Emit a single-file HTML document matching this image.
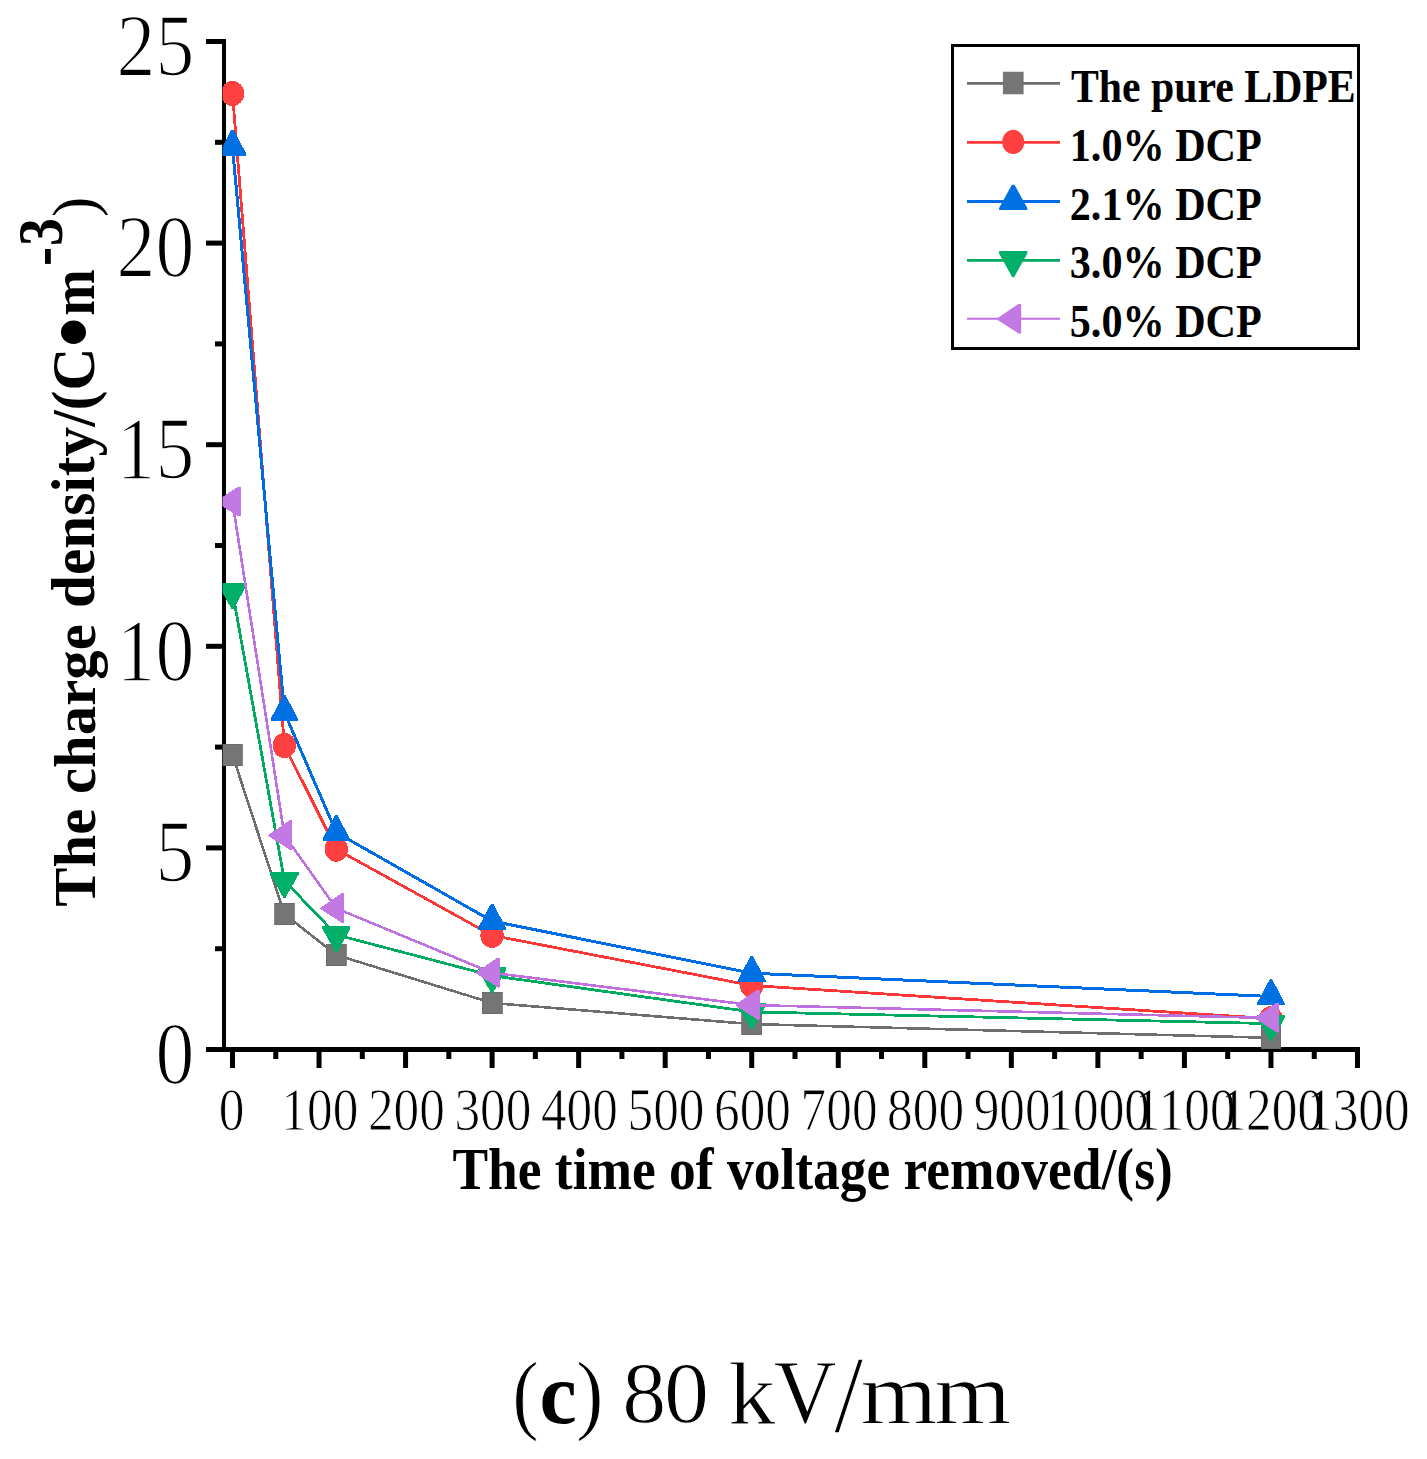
<!DOCTYPE html><html><head><meta charset="utf-8"><style>html,body{margin:0;padding:0;background:#fff;}svg{display:block;}text{font-family:"Liberation Serif",serif;}</style></head><body>
<svg width="1427" height="1459" viewBox="0 0 1427 1459">
<rect width="1427" height="1459" fill="#fff"/>
<defs><clipPath id="pc"><rect x="222.5" y="30" width="1140" height="1022"/></clipPath></defs>
<rect x="222" y="39" width="4" height="1013" fill="#000"/>
<rect x="206" y="1047" width="1154" height="5" fill="#000"/>
<rect x="206" y="845.40" width="18" height="5" fill="#000"/>
<rect x="206" y="643.80" width="18" height="5" fill="#000"/>
<rect x="206" y="442.20" width="18" height="5" fill="#000"/>
<rect x="206" y="240.60" width="18" height="5" fill="#000"/>
<rect x="206" y="39.00" width="18" height="5" fill="#000"/>
<rect x="215" y="946.20" width="9" height="5" fill="#000"/>
<rect x="215" y="744.60" width="9" height="5" fill="#000"/>
<rect x="215" y="543.00" width="9" height="5" fill="#000"/>
<rect x="215" y="341.40" width="9" height="5" fill="#000"/>
<rect x="215" y="139.80" width="9" height="5" fill="#000"/>
<rect x="230.00" y="1049" width="5" height="19" fill="#000"/>
<rect x="316.54" y="1049" width="5" height="19" fill="#000"/>
<rect x="403.08" y="1049" width="5" height="19" fill="#000"/>
<rect x="489.61" y="1049" width="5" height="19" fill="#000"/>
<rect x="576.15" y="1049" width="5" height="19" fill="#000"/>
<rect x="662.69" y="1049" width="5" height="19" fill="#000"/>
<rect x="749.23" y="1049" width="5" height="19" fill="#000"/>
<rect x="835.77" y="1049" width="5" height="19" fill="#000"/>
<rect x="922.30" y="1049" width="5" height="19" fill="#000"/>
<rect x="1008.84" y="1049" width="5" height="19" fill="#000"/>
<rect x="1095.38" y="1049" width="5" height="19" fill="#000"/>
<rect x="1181.92" y="1049" width="5" height="19" fill="#000"/>
<rect x="1268.46" y="1049" width="5" height="19" fill="#000"/>
<rect x="1354.99" y="1049" width="5" height="19" fill="#000"/>
<rect x="273.27" y="1049" width="5" height="10" fill="#000"/>
<rect x="359.81" y="1049" width="5" height="10" fill="#000"/>
<rect x="446.35" y="1049" width="5" height="10" fill="#000"/>
<rect x="532.88" y="1049" width="5" height="10" fill="#000"/>
<rect x="619.42" y="1049" width="5" height="10" fill="#000"/>
<rect x="705.96" y="1049" width="5" height="10" fill="#000"/>
<rect x="792.50" y="1049" width="5" height="10" fill="#000"/>
<rect x="879.04" y="1049" width="5" height="10" fill="#000"/>
<rect x="965.57" y="1049" width="5" height="10" fill="#000"/>
<rect x="1052.11" y="1049" width="5" height="10" fill="#000"/>
<rect x="1138.65" y="1049" width="5" height="10" fill="#000"/>
<rect x="1225.19" y="1049" width="5" height="10" fill="#000"/>
<rect x="1311.73" y="1049" width="5" height="10" fill="#000"/>
<g clip-path="url(#pc)" shape-rendering="crispEdges">
<polyline points="232.50,754.90 284.42,914.00 336.35,955.00 492.11,1003.00 751.73,1024.10 1270.96,1037.80" fill="none" stroke="#6E6E6E" stroke-width="2.6" stroke-linejoin="round"/>
<rect x="222.60" y="744.05" width="19.8" height="21.7" fill="#757575" stroke="#6A6A6A" stroke-width="0.8"/>
<rect x="274.52" y="903.15" width="19.8" height="21.7" fill="#757575" stroke="#6A6A6A" stroke-width="0.8"/>
<rect x="326.45" y="944.15" width="19.8" height="21.7" fill="#757575" stroke="#6A6A6A" stroke-width="0.8"/>
<rect x="482.21" y="992.15" width="19.8" height="21.7" fill="#757575" stroke="#6A6A6A" stroke-width="0.8"/>
<rect x="741.83" y="1013.25" width="19.8" height="21.7" fill="#757575" stroke="#6A6A6A" stroke-width="0.8"/>
<rect x="1261.06" y="1026.95" width="19.8" height="21.7" fill="#757575" stroke="#6A6A6A" stroke-width="0.8"/>
<polyline points="232.50,93.50 284.42,745.50 336.35,849.20 492.11,935.40 751.73,985.50 1270.96,1018.60" fill="none" stroke="#FF3636" stroke-width="2.8" stroke-linejoin="round"/>
<ellipse cx="232.50" cy="93.50" rx="11.7" ry="12.5" fill="#FF4040"/>
<ellipse cx="284.42" cy="745.50" rx="11.7" ry="12.5" fill="#FF4040"/>
<ellipse cx="336.35" cy="849.20" rx="11.7" ry="12.5" fill="#FF4040"/>
<ellipse cx="492.11" cy="935.40" rx="11.7" ry="12.5" fill="#FF4040"/>
<ellipse cx="751.73" cy="985.50" rx="11.7" ry="12.5" fill="#FF4040"/>
<ellipse cx="1270.96" cy="1018.60" rx="11.7" ry="12.5" fill="#FF4040"/>
<polyline points="232.50,147.20 284.42,712.50 336.35,832.50 492.11,921.10 751.73,973.20 1270.96,996.50" fill="none" stroke="#006CE3" stroke-width="3.0" stroke-linejoin="round"/>
<polygon points="231.20,130.13 233.80,130.13 246.30,153.73 246.30,155.73 218.70,155.73 218.70,153.73" fill="#0071E3"/>
<polygon points="283.12,695.43 285.72,695.43 298.22,719.03 298.22,721.03 270.62,721.03 270.62,719.03" fill="#0071E3"/>
<polygon points="335.05,815.43 337.65,815.43 350.15,839.03 350.15,841.03 322.55,841.03 322.55,839.03" fill="#0071E3"/>
<polygon points="490.81,904.03 493.41,904.03 505.91,927.63 505.91,929.63 478.31,929.63 478.31,927.63" fill="#0071E3"/>
<polygon points="750.43,956.13 753.03,956.13 765.53,979.73 765.53,981.73 737.93,981.73 737.93,979.73" fill="#0071E3"/>
<polygon points="1269.66,979.43 1272.26,979.43 1284.76,1003.03 1284.76,1005.03 1257.16,1005.03 1257.16,1003.03" fill="#0071E3"/>
<polyline points="232.50,591.70 284.42,880.70 336.35,934.80 492.11,975.70 751.73,1011.90 1270.96,1023.60" fill="none" stroke="#00AA60" stroke-width="2.8" stroke-linejoin="round"/>
<polygon points="218.40,582.97 246.60,582.97 246.60,585.57 233.40,609.17 231.60,609.17 218.40,585.57" fill="#00AF68"/>
<polygon points="270.32,871.97 298.52,871.97 298.52,874.57 285.32,898.17 283.52,898.17 270.32,874.57" fill="#00AF68"/>
<polygon points="322.25,926.07 350.45,926.07 350.45,928.67 337.25,952.27 335.45,952.27 322.25,928.67" fill="#00AF68"/>
<polygon points="478.01,966.97 506.21,966.97 506.21,969.57 493.01,993.17 491.21,993.17 478.01,969.57" fill="#00AF68"/>
<polygon points="737.63,1003.17 765.83,1003.17 765.83,1005.77 752.63,1029.37 750.83,1029.37 737.63,1005.77" fill="#00AF68"/>
<polygon points="1256.86,1014.87 1285.06,1014.87 1285.06,1017.47 1271.86,1041.07 1270.06,1041.07 1256.86,1017.47" fill="#00AF68"/>
<polyline points="232.50,501.80 284.42,835.40 336.35,908.40 492.11,972.90 751.73,1005.10 1270.96,1018.00" fill="none" stroke="#BE70E0" stroke-width="2.6" stroke-linejoin="round"/>
<polygon points="216.50,501.10 237.70,486.80 240.50,486.80 240.50,515.60 239.00,516.80 216.50,502.50" fill="#C379E3"/>
<polygon points="268.42,834.70 289.62,820.40 292.42,820.40 292.42,849.20 290.92,850.40 268.42,836.10" fill="#C379E3"/>
<polygon points="320.35,907.70 341.55,893.40 344.35,893.40 344.35,922.20 342.85,923.40 320.35,909.10" fill="#C379E3"/>
<polygon points="476.11,972.20 497.31,957.90 500.11,957.90 500.11,986.70 498.61,987.90 476.11,973.60" fill="#C379E3"/>
<polygon points="735.73,1004.40 756.93,990.10 759.73,990.10 759.73,1018.90 758.23,1020.10 735.73,1005.80" fill="#C379E3"/>
<polygon points="1254.96,1017.30 1276.16,1003.00 1278.96,1003.00 1278.96,1031.80 1277.46,1033.00 1254.96,1018.70" fill="#C379E3"/>
</g>
<text transform="translate(194.29999999999998 1082.80) scale(0.8837241379310345 1.0121724137931034)" font-size="88" text-anchor="end" stroke="#fff" stroke-width="1.6">0</text>
<text transform="translate(194.29999999999998 881.20) scale(0.8837241379310345 1.0121724137931034)" font-size="88" text-anchor="end" stroke="#fff" stroke-width="1.6">5</text>
<text transform="translate(194.29999999999998 679.60) scale(0.8837241379310345 1.0121724137931034)" font-size="88" text-anchor="end" stroke="#fff" stroke-width="1.6">10</text>
<text transform="translate(194.29999999999998 478.00) scale(0.8837241379310345 1.0121724137931034)" font-size="88" text-anchor="end" stroke="#fff" stroke-width="1.6">15</text>
<text transform="translate(194.29999999999998 276.40) scale(0.8837241379310345 1.0121724137931034)" font-size="88" text-anchor="end" stroke="#fff" stroke-width="1.6">20</text>
<text transform="translate(194.29999999999998 74.80) scale(0.8837241379310345 1.0121724137931034)" font-size="88" text-anchor="end" stroke="#fff" stroke-width="1.6">25</text>
<text transform="translate(231.50 1130.2) scale(0.885 1.0404)" font-size="58" text-anchor="middle" stroke="#fff" stroke-width="0.9">0</text>
<text transform="translate(319.84 1130.2) scale(0.885 1.0404)" font-size="58" text-anchor="middle" stroke="#fff" stroke-width="0.9">100</text>
<text transform="translate(406.38 1130.2) scale(0.885 1.0404)" font-size="58" text-anchor="middle" stroke="#fff" stroke-width="0.9">200</text>
<text transform="translate(492.91 1130.2) scale(0.885 1.0404)" font-size="58" text-anchor="middle" stroke="#fff" stroke-width="0.9">300</text>
<text transform="translate(579.45 1130.2) scale(0.885 1.0404)" font-size="58" text-anchor="middle" stroke="#fff" stroke-width="0.9">400</text>
<text transform="translate(665.99 1130.2) scale(0.885 1.0404)" font-size="58" text-anchor="middle" stroke="#fff" stroke-width="0.9">500</text>
<text transform="translate(752.53 1130.2) scale(0.885 1.0404)" font-size="58" text-anchor="middle" stroke="#fff" stroke-width="0.9">600</text>
<text transform="translate(839.07 1130.2) scale(0.885 1.0404)" font-size="58" text-anchor="middle" stroke="#fff" stroke-width="0.9">700</text>
<text transform="translate(925.60 1130.2) scale(0.885 1.0404)" font-size="58" text-anchor="middle" stroke="#fff" stroke-width="0.9">800</text>
<text transform="translate(1012.14 1130.2) scale(0.885 1.0404)" font-size="58" text-anchor="middle" stroke="#fff" stroke-width="0.9">900</text>
<mask id="xm1000" maskUnits="userSpaceOnUse" x="1027.9" y="1080" width="140" height="60"><text transform="translate(1098.68 1130.2) scale(0.885 1.0404)" font-size="58" text-anchor="middle" fill="#fff" stroke="#000" stroke-width="0.9">1000</text></mask>
<rect x="1027.9" y="1080" width="140" height="60" fill="#000" mask="url(#xm1000)"/>
<mask id="xm1100" maskUnits="userSpaceOnUse" x="1114.4" y="1080" width="140" height="60"><text transform="translate(1185.22 1130.2) scale(0.885 1.0404)" font-size="58" text-anchor="middle" fill="#fff" stroke="#000" stroke-width="0.9">1100</text></mask>
<rect x="1114.4" y="1080" width="140" height="60" fill="#000" mask="url(#xm1100)"/>
<mask id="xm1200" maskUnits="userSpaceOnUse" x="1201.0" y="1080" width="140" height="60"><text transform="translate(1271.76 1130.2) scale(0.885 1.0404)" font-size="58" text-anchor="middle" fill="#fff" stroke="#000" stroke-width="0.9">1200</text></mask>
<rect x="1201.0" y="1080" width="140" height="60" fill="#000" mask="url(#xm1200)"/>
<mask id="xm1300" maskUnits="userSpaceOnUse" x="1287.5" y="1080" width="140" height="60"><text transform="translate(1358.29 1130.2) scale(0.885 1.0404)" font-size="58" text-anchor="middle" fill="#fff" stroke="#000" stroke-width="0.9">1300</text></mask>
<rect x="1287.5" y="1080" width="140" height="60" fill="#000" mask="url(#xm1300)"/>
<text transform="translate(452.38 1189.36) scale(0.9216 1.0365)" font-size="58" font-weight="bold">The time of voltage removed/(s)</text>
<text transform="translate(94.54 906.78) rotate(-90) scale(0.9801 0.9889)" font-size="60" font-weight="bold">The charge</text>
<text transform="translate(94.05 608.07) rotate(-90) scale(0.9887 1.0037)" font-size="60" font-weight="bold">density/(C</text>
<text transform="translate(94.00 315.66) rotate(-90) scale(0.9319 1.0296)" font-size="60" font-weight="bold">m</text>
<text transform="translate(61.90 245.97) rotate(-90) scale(0.9346 1.0487)" font-size="60" font-weight="bold">3</text>
<text transform="translate(94.77 216.93) rotate(-90) scale(1.0133 1.0189)" font-size="60">)</text>
<ellipse cx="73.5" cy="332.3" rx="12.5" ry="11.7" fill="#000"/>
<rect x="45" y="249" width="5.8" height="14.9" fill="#000"/>
<rect x="952.5" y="45.5" width="406" height="303" fill="#fff" stroke="#000" stroke-width="3"/>
<line x1="967" y1="83.4" x2="1060" y2="83.4" stroke="#6E6E6E" stroke-width="2.6"/>
<rect x="1003.30" y="72.15" width="19.8" height="21.7" fill="#757575" stroke="#6A6A6A" stroke-width="0.8"/>
<text transform="translate(1071.0 101.9) scale(0.889 1.0)" font-size="47" font-weight="bold">The pure LDPE</text>
<line x1="967" y1="142.4" x2="1060" y2="142.4" stroke="#FF3636" stroke-width="2.8"/>
<ellipse cx="1013.20" cy="141.90" rx="11.0" ry="12.05" fill="#FF4040"/>
<text transform="translate(1069.8 161.1) scale(0.897 1.0)" font-size="47" font-weight="bold">1.0% DCP</text>
<line x1="967" y1="201.4" x2="1060" y2="201.4" stroke="#006CE3" stroke-width="3.0"/>
<polygon points="1011.90,184.73 1014.50,184.73 1027.30,208.03 1027.30,210.03 999.10,210.03 999.10,208.03" fill="#0071E3"/>
<text transform="translate(1069.8 220.4) scale(0.897 1.0)" font-size="47" font-weight="bold">2.1% DCP</text>
<line x1="967" y1="260.4" x2="1060" y2="260.4" stroke="#00AA60" stroke-width="2.8"/>
<polygon points="999.10,250.97 1027.30,250.97 1027.30,253.57 1014.10,277.17 1012.30,277.17 999.10,253.57" fill="#00AF68"/>
<text transform="translate(1069.8 278.1) scale(0.897 1.0)" font-size="47" font-weight="bold">3.0% DCP</text>
<line x1="967" y1="318.8" x2="1060" y2="318.8" stroke="#BE70E0" stroke-width="2.1"/>
<polygon points="997.20,318.30 1018.40,304.00 1021.20,304.00 1021.20,332.80 1019.70,334.00 997.20,319.70" fill="#C379E3"/>
<text transform="translate(1069.8 337.3) scale(0.897 1.0)" font-size="47" font-weight="bold">5.0% DCP</text>
<text transform="translate(512.25 1422.95) scale(0.9136 1.0145)" font-size="87" stroke="#fff" stroke-width="1.0">(</text>
<text transform="translate(539.51 1422.80) scale(0.9636 0.9976)" font-size="87" font-weight="bold">c</text>
<text transform="translate(575.94 1422.95) scale(0.9545 1.0145)" font-size="87" stroke="#fff" stroke-width="1.0">)</text>
<text transform="translate(622.16 1421.89) scale(1.0111 1.0052)" font-size="87" stroke="#fff" stroke-width="1.0">8</text>
<text transform="translate(663.96 1421.89) scale(1.0361 1.0052)" font-size="87" stroke="#fff" stroke-width="1.0">0</text>
<text transform="translate(728.32 1423.53) scale(1.0878 1.0322)" font-size="87" stroke="#fff" stroke-width="1.0">k</text>
<text transform="translate(773.70 1422.56) scale(0.9983 1.0404)" font-size="87" stroke="#fff" stroke-width="1.0">V</text>
<text transform="translate(833.99 1432.00) scale(1.2136 1.2696)" font-size="87" stroke="#fff" stroke-width="1.0">/</text>
<text transform="translate(860.59 1424.01) scale(1.1355 1.0100)" font-size="87" stroke="#fff" stroke-width="1.0">m</text>
<text transform="translate(934.19 1424.01) scale(1.1355 1.0100)" font-size="87" stroke="#fff" stroke-width="1.0">m</text>
</svg></body></html>
